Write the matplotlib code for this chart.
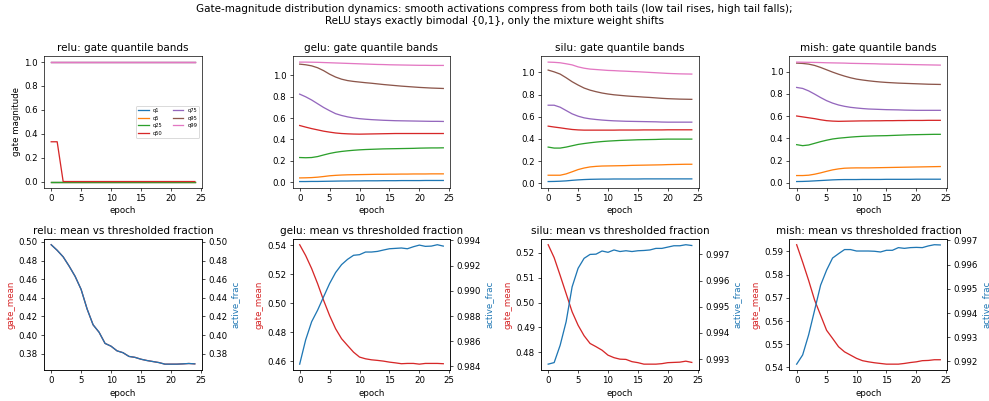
import matplotlib
matplotlib.use('Agg')
import matplotlib.pyplot as plt
from matplotlib.ticker import MultipleLocator

# Epoch axis
epochs = list(range(25))
quantile_names = ['q1', 'q5', 'q25', 'q50', 'q75', 'q95', 'q99']

# relu: gate is exactly 0 or 1, so the quantiles are flat
relu_q1 = [0.0] * 25
relu_q5 = [0.0] * 25
relu_q25 = [0.0] * 25
relu_q50 = [0.333, 0.333] + [0.0] * 23
relu_q75 = [1.0] * 25
relu_q95 = [1.0] * 25
relu_q99 = [1.0] * 25

gelu_q1 = [0.006, 0.006, 0.007, 0.007, 0.008, 0.009, 0.010, 0.011, 0.011, 0.012, 0.012, 0.013, 0.013,
           0.013, 0.014, 0.014, 0.014, 0.015, 0.015, 0.015, 0.015, 0.016, 0.016, 0.016, 0.016]
gelu_q5 = [0.040, 0.041, 0.043, 0.047, 0.053, 0.060, 0.064, 0.067, 0.069, 0.070, 0.071, 0.072, 0.073,
           0.074, 0.074, 0.075, 0.075, 0.076, 0.076, 0.077, 0.077, 0.077, 0.078, 0.078, 0.078]
gelu_q25 = [0.231, 0.229, 0.231, 0.240, 0.255, 0.269, 0.280, 0.288, 0.294, 0.299, 0.303, 0.306, 0.308,
            0.310, 0.312, 0.313, 0.314, 0.315, 0.316, 0.317, 0.319, 0.320, 0.321, 0.321, 0.322]
gelu_q50 = [0.531, 0.516, 0.502, 0.490, 0.478, 0.469, 0.461, 0.456, 0.453, 0.451, 0.450, 0.451, 0.452,
            0.453, 0.454, 0.455, 0.456, 0.456, 0.456, 0.456, 0.456, 0.456, 0.456, 0.456, 0.456]
gelu_q75 = [0.825, 0.800, 0.770, 0.735, 0.700, 0.670, 0.642, 0.625, 0.612, 0.602, 0.595, 0.590, 0.586,
            0.583, 0.580, 0.578, 0.576, 0.575, 0.574, 0.573, 0.572, 0.571, 0.570, 0.570, 0.569]
gelu_q95 = [1.106, 1.100, 1.090, 1.072, 1.045, 1.012, 0.985, 0.965, 0.952, 0.944, 0.938, 0.932, 0.927,
            0.921, 0.915, 0.910, 0.905, 0.900, 0.896, 0.892, 0.888, 0.885, 0.882, 0.880, 0.878]
gelu_q99 = [1.125, 1.125, 1.124, 1.123, 1.121, 1.119, 1.117, 1.115, 1.113, 1.111, 1.109, 1.107, 1.105,
            1.103, 1.102, 1.100, 1.099, 1.098, 1.097, 1.096, 1.095, 1.095, 1.094, 1.094, 1.094]

silu_q1 = [0.015, 0.016, 0.018, 0.021, 0.026, 0.030, 0.033, 0.035, 0.036, 0.037, 0.037, 0.038, 0.038,
           0.038, 0.038, 0.038, 0.039, 0.039, 0.039, 0.039, 0.039, 0.039, 0.039, 0.039, 0.039]
silu_q5 = [0.072, 0.072, 0.072, 0.084, 0.103, 0.123, 0.137, 0.147, 0.152, 0.155, 0.156, 0.157, 0.158,
           0.159, 0.161, 0.162, 0.163, 0.164, 0.165, 0.166, 0.168, 0.169, 0.170, 0.171, 0.171]
silu_q25 = [0.326, 0.317, 0.317, 0.326, 0.338, 0.350, 0.358, 0.365, 0.371, 0.376, 0.380, 0.383, 0.386,
            0.388, 0.390, 0.392, 0.393, 0.394, 0.395, 0.397, 0.398, 0.398, 0.398, 0.398, 0.398]
silu_q50 = [0.515, 0.507, 0.500, 0.492, 0.485, 0.481, 0.479, 0.479, 0.479, 0.479, 0.479, 0.479, 0.480,
            0.480, 0.480, 0.480, 0.481, 0.481, 0.481, 0.481, 0.482, 0.482, 0.482, 0.482, 0.482]
silu_q75 = [0.704, 0.704, 0.686, 0.656, 0.626, 0.605, 0.590, 0.581, 0.575, 0.570, 0.566, 0.563, 0.561,
            0.559, 0.558, 0.557, 0.556, 0.555, 0.554, 0.552, 0.551, 0.551, 0.551, 0.551, 0.551]
silu_q95 = [1.021, 1.005, 0.985, 0.952, 0.916, 0.886, 0.859, 0.840, 0.826, 0.814, 0.805, 0.798, 0.793,
            0.788, 0.784, 0.781, 0.777, 0.774, 0.770, 0.766, 0.763, 0.761, 0.759, 0.758, 0.757]
silu_q99 = [1.093, 1.091, 1.087, 1.078, 1.068, 1.050, 1.038, 1.030, 1.026, 1.022, 1.018, 1.016, 1.013,
            1.011, 1.008, 1.006, 1.003, 1.000, 0.997, 0.994, 0.991, 0.989, 0.987, 0.986, 0.985]

mish_q1 = [0.012, 0.013, 0.015, 0.018, 0.021, 0.024, 0.027, 0.029, 0.030, 0.030, 0.030, 0.031, 0.031,
           0.031, 0.031, 0.032, 0.032, 0.032, 0.032, 0.032, 0.033, 0.033, 0.033, 0.033, 0.033]
mish_q5 = [0.066, 0.066, 0.069, 0.078, 0.090, 0.104, 0.117, 0.126, 0.132, 0.134, 0.135, 0.135, 0.135,
           0.136, 0.137, 0.138, 0.139, 0.140, 0.141, 0.142, 0.143, 0.144, 0.145, 0.146, 0.147]
mish_q25 = [0.344, 0.335, 0.341, 0.356, 0.371, 0.384, 0.395, 0.402, 0.407, 0.412, 0.416, 0.419, 0.421,
            0.423, 0.424, 0.425, 0.427, 0.429, 0.431, 0.433, 0.434, 0.435, 0.436, 0.437, 0.437]
mish_q50 = [0.602, 0.594, 0.586, 0.578, 0.568, 0.560, 0.556, 0.554, 0.555, 0.556, 0.557, 0.558, 0.558,
            0.559, 0.559, 0.560, 0.560, 0.561, 0.561, 0.562, 0.562, 0.562, 0.563, 0.563, 0.563]
mish_q75 = [0.859, 0.850, 0.828, 0.799, 0.768, 0.740, 0.718, 0.701, 0.689, 0.680, 0.674, 0.669, 0.665,
            0.663, 0.661, 0.659, 0.658, 0.657, 0.655, 0.654, 0.653, 0.653, 0.653, 0.653, 0.653]
mish_q95 = [1.078, 1.075, 1.069, 1.057, 1.039, 1.018, 0.997, 0.978, 0.961, 0.946, 0.934, 0.926, 0.919,
            0.913, 0.908, 0.904, 0.901, 0.898, 0.896, 0.894, 0.892, 0.890, 0.888, 0.887, 0.886]
mish_q99 = [1.087, 1.086, 1.085, 1.084, 1.083, 1.081, 1.080, 1.079, 1.078, 1.076, 1.075, 1.074, 1.073,
            1.072, 1.070, 1.069, 1.068, 1.067, 1.066, 1.065, 1.064, 1.063, 1.062, 1.061, 1.060]

# Mean gate value and fraction of active gates per epoch
relu_mean = [0.497, 0.491, 0.484, 0.474, 0.463, 0.449, 0.428, 0.411, 0.403, 0.391, 0.388, 0.383, 0.381,
             0.377, 0.376, 0.374, 0.3726, 0.3715, 0.3704, 0.3687, 0.3687, 0.3687, 0.369, 0.3694, 0.369]
relu_active = list(relu_mean)  # identical for relu, the red line sits under the blue one

gelu_mean = [0.5405, 0.533, 0.524, 0.5135, 0.502, 0.4915, 0.4824, 0.4755, 0.4708, 0.4662, 0.4628, 0.4616,
             0.4609, 0.4605, 0.4600, 0.4593, 0.4588, 0.4582, 0.4584, 0.4584, 0.4579, 0.4584, 0.4584,
             0.4584, 0.4582]
gelu_active = [0.98418, 0.98611, 0.98755, 0.98847, 0.98953, 0.99058, 0.99145, 0.99208, 0.9925, 0.99282,
               0.99287, 0.99308, 0.99308, 0.99313, 0.99324, 0.99334, 0.99337, 0.9934, 0.99334, 0.9935,
               0.99363, 0.99353, 0.99355, 0.99366, 0.99355]

silu_mean = [0.5232, 0.518, 0.5109, 0.5036, 0.4963, 0.4909, 0.4867, 0.4836, 0.4823, 0.4809, 0.4789, 0.4779,
             0.4773, 0.4772, 0.4763, 0.4759, 0.4753, 0.4753, 0.4753, 0.4755, 0.4759, 0.476, 0.4761,
             0.4765, 0.476]
silu_active = [0.99281, 0.99287, 0.99353, 0.99443, 0.99576, 0.99647, 0.99685, 0.997, 0.99701, 0.99713,
               0.99708, 0.99717, 0.99711, 0.99714, 0.99711, 0.99714, 0.99715, 0.99717, 0.99723, 0.99723,
               0.99728, 0.99733, 0.99733, 0.99737, 0.99734]

mish_mean = [0.5929, 0.5854, 0.5775, 0.569, 0.5625, 0.556, 0.5525, 0.5489, 0.5467, 0.5453, 0.5439, 0.5429,
             0.5424, 0.542, 0.5417, 0.5414, 0.5414, 0.5414, 0.5417, 0.5421, 0.5424, 0.5429, 0.543,
             0.5433, 0.5433]
mish_active = [0.99189, 0.99227, 0.9931, 0.99412, 0.99515, 0.99577, 0.99627, 0.99645, 0.99662, 0.99662,
               0.99656, 0.99656, 0.99656, 0.99655, 0.99652, 0.99659, 0.99659, 0.9967, 0.99667, 0.9967,
               0.99671, 0.9967, 0.99677, 0.99682, 0.99681]

activations = ['relu', 'gelu', 'silu', 'mish']
quantiles = {
    'relu': [relu_q1, relu_q5, relu_q25, relu_q50, relu_q75, relu_q95, relu_q99],
    'gelu': [gelu_q1, gelu_q5, gelu_q25, gelu_q50, gelu_q75, gelu_q95, gelu_q99],
    'silu': [silu_q1, silu_q5, silu_q25, silu_q50, silu_q75, silu_q95, silu_q99],
    'mish': [mish_q1, mish_q5, mish_q25, mish_q50, mish_q75, mish_q95, mish_q99],
}
means = {'relu': relu_mean, 'gelu': gelu_mean, 'silu': silu_mean, 'mish': mish_mean}
actives = {'relu': relu_active, 'gelu': gelu_active, 'silu': silu_active, 'mish': mish_active}

fig, axes = plt.subplots(2, 4, figsize=(989 / 62, 401 / 62), dpi=62)
fig.subplots_adjust(left=0.0445, right=0.958, top=0.86, bottom=0.077, wspace=0.573, hspace=0.39)

for i, act in enumerate(activations):
    # top row: quantile bands
    ax = axes[0, i]
    for name, vals in zip(quantile_names, quantiles[act]):
        ax.plot(epochs, vals, label=name)
    ax.set_title(f'{act}: gate quantile bands')
    ax.set_xlabel('epoch')
    if i == 0:
        ax.set_ylabel('gate magnitude')
        ax.legend(fontsize=6, ncol=2, loc='center right')

    # bottom row: mean vs thresholded fraction
    ax = axes[1, i]
    ax.plot(epochs, means[act], color='tab:red')
    ax.set_ylabel('gate_mean', color='tab:red')
    ax.set_xlabel('epoch')
    ax.set_title(f'{act}: mean vs thresholded fraction')
    ax2 = ax.twinx()
    ax2.plot(epochs, actives[act], color='tab:blue')
    ax2.set_ylabel('active_frac', color='tab:blue')
    if act == 'relu':
        ax.yaxis.set_major_locator(MultipleLocator(0.02))
        ax2.yaxis.set_major_locator(MultipleLocator(0.02))

fig.suptitle('Gate-magnitude distribution dynamics: smooth activations compress from both tails '
             '(low tail rises, high tail falls);\nReLU stays exactly bimodal {0,1}, only the mixture weight shifts',
             y=0.99)

fig.savefig('out.png', dpi=62)
